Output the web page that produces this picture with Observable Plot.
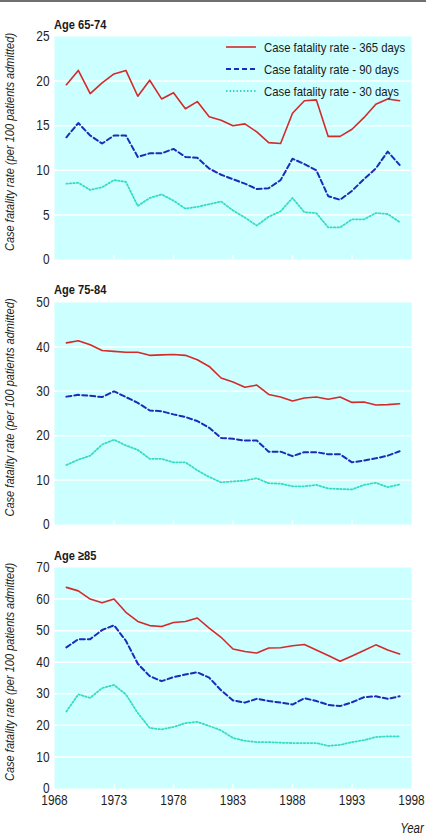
<!DOCTYPE html>
<html><head><meta charset="utf-8">
<script src="https://cdn.jsdelivr.net/npm/d3@7"></script>
<script src="https://cdn.jsdelivr.net/npm/@observablehq/plot@0.6"></script>
<style>
body{margin:0;background:#fff;}
#wrap{position:relative;width:426px;height:836px;overflow:hidden;font-family:"Liberation Sans",Arial,sans-serif;color:#1a1a1a;}
.rule{position:absolute;left:0;top:0;width:426px;height:2px;background:#707070;}
.ptitle{position:absolute;left:54px;font-weight:bold;font-size:13.5px;line-height:14px;transform:scaleX(0.82);transform-origin:left center;white-space:nowrap;}
.panel{position:absolute;left:0;}
.legend{position:absolute;left:226px;top:36px;font-size:13.5px;}
.legend .row{height:22px;display:flex;align-items:center;white-space:nowrap;}
.legend svg{margin-right:8px;flex:none;}
.legend span{display:inline-block;transform:scaleX(0.84);transform-origin:left center;}
.year{position:absolute;right:2px;top:821px;font-style:italic;font-size:14px;line-height:14px;transform:scaleX(0.82);transform-origin:right center;}
</style></head><body>
<div id="wrap">
  <div class="rule"></div>
</div>
<script>
const years = [1969,1970,1971,1972,1973,1974,1975,1976,1977,1978,1979,1980,1981,1982,1983,1984,1985,1986,1987,1988,1989,1990,1991,1992,1993,1994,1995,1996,1997];
const xTicks = [1968,1973,1978,1983,1988,1993,1998];
const seriesNames = ["Case fatality rate - 365 days","Case fatality rate - 90 days","Case fatality rate - 30 days"];
const panelTitles = ["Age 65-74","Age 75-84","Age \u226585"];
const yLabel = "Case fatality rate (per 100 patients admitted)";

// Age 65-74
const a365 = [19.6,21.2,18.6,19.8,20.8,21.2,18.3,20.1,18.0,18.7,16.9,17.7,16.0,15.6,15.0,15.2,14.3,13.1,13.0,16.4,17.8,17.9,13.8,13.8,14.6,15.9,17.4,18.0,17.8];
const a90  = [13.7,15.3,13.9,13.0,13.9,13.9,11.5,11.9,11.9,12.4,11.5,11.4,10.2,9.5,9.0,8.5,7.9,8.0,8.9,11.3,10.7,10.0,7.1,6.7,7.7,9.0,10.2,12.1,10.6];
const a30  = [8.5,8.6,7.8,8.1,8.9,8.7,6.0,6.9,7.3,6.6,5.7,5.9,6.2,6.5,5.5,4.7,3.8,4.8,5.4,6.9,5.3,5.2,3.6,3.6,4.5,4.5,5.2,5.1,4.2];
const aTicks = [0,5,10,15,20,25];
// Age 75-84
const b365 = [40.9,41.4,40.5,39.2,39.0,38.8,38.8,38.1,38.2,38.3,38.1,37.1,35.6,33.0,32.1,30.9,31.4,29.3,28.7,27.8,28.5,28.7,28.2,28.7,27.5,27.6,26.9,27.0,27.2];
const b90  = [28.8,29.2,29.0,28.7,30.0,28.7,27.4,25.7,25.5,24.8,24.2,23.3,21.8,19.5,19.3,18.9,18.9,16.4,16.4,15.4,16.3,16.3,15.8,15.8,14.0,14.4,14.9,15.5,16.5];
const b30  = [13.4,14.6,15.5,18.0,19.1,17.8,16.8,14.8,14.8,14.0,14.0,12.2,10.7,9.5,9.7,9.9,10.4,9.3,9.2,8.6,8.6,8.9,8.1,8.0,7.9,8.9,9.4,8.4,9.0];
const bTicks = [0,10,20,30,40,50];
// Age >=85
const c365 = [63.7,62.6,60.0,58.8,60.0,55.8,52.9,51.6,51.3,52.6,52.9,54.0,50.8,47.9,44.2,43.4,42.9,44.5,44.6,45.2,45.6,43.9,42.1,40.3,42.0,43.7,45.5,43.9,42.6];
const c90  = [44.7,47.3,47.3,50.2,51.7,46.8,39.5,35.6,34.0,35.3,36.1,36.8,35.1,31.1,27.9,27.2,28.4,27.7,27.2,26.6,28.6,27.7,26.5,26.1,27.3,28.9,29.2,28.4,29.2];
const c30  = [24.4,29.8,28.7,31.8,32.8,29.8,23.9,19.2,18.7,19.5,20.7,21.1,19.8,18.4,16.0,15.1,14.7,14.7,14.5,14.4,14.4,14.4,13.5,13.8,14.7,15.3,16.3,16.5,16.5];
const cTicks = [0,10,20,30,40,50,60,70];

const FONT = '"Liberation Sans",Arial,sans-serif';
const styles = [
  {stroke:"#d42a2a", strokeWidth:1.6, dash:null},
  {stroke:"#1b2db8", strokeWidth:2, dash:"5,3"},
  {stroke:"#34dcc4", strokeWidth:1.8, dash:"1.5,2"}
];
const wrap = document.getElementById("wrap");

function panel(top, svgH, mt, mb, title, titleTop, yTicks, vals, showX) {
  const plotH = svgH - mt - mb;
  const lineMarks = vals.map((v, k) => Plot.line(years.map((yr, i) => ({year: yr, value: v[i]})), {
    x: "year", y: "value", stroke: styles[k].stroke, strokeWidth: styles[k].strokeWidth,
    strokeDasharray: styles[k].dash
  }));
  const marks = [
    Plot.frame({fill: "#ccffff", stroke: null}),
    Plot.gridY(yTicks.slice(1, -1), {stroke: "#fff", strokeOpacity: 1, strokeWidth: 1.5}),
    Plot.tickX(xTicks.slice(1, -1), {x: d => d, stroke: "#fff", strokeWidth: 1.5, insetTop: plotH - 4}),
    Plot.axisY(yTicks, {tickSize: 0, tickPadding: 5, label: null, fontSize: 14.5}),
    Plot.text([yLabel], {text: d => d, frameAnchor: "left", textAnchor: "middle", lineAnchor: "middle", rotate: -90, dx: -45, dy: -6, fontStyle: "italic", fontSize: 13.5}),
    ...lineMarks
  ];
  if (showX) marks.push(Plot.axisX(xTicks, {tickSize: 0, tickPadding: 6, label: null, tickFormat: d => String(d), fontSize: 14.5}));
  const chart = Plot.plot({
    width: 426, height: svgH,
    marginLeft: 54, marginRight: 15, marginTop: mt, marginBottom: mb,
    style: {fontFamily: FONT, fontSize: "14px", color: "#1e1e1e", background: "transparent", overflow: "visible"},
    x: {domain: [1968, 1998], axis: showX ? undefined : null},
    y: {domain: [yTicks[0], yTicks[yTicks.length - 1]]},
    marks
  });
  chart.classList.add("panel");
  chart.style.top = top + "px";
  // narrow (condensed) lettering: compress each text about its own anchor
  chart.querySelectorAll("text").forEach(t => {
    const tr = t.getAttribute("transform") || "";
    t.setAttribute("transform", tr + " scale(0.82,1)");
  });
  wrap.appendChild(chart);
  const t = document.createElement("div");
  t.className = "ptitle";
  t.style.top = titleTop + "px";
  t.textContent = title;
  wrap.appendChild(t);
}

panel(0, 270, 36, 11, panelTitles[0], 18, aTicks, [a365, a90, a30], false);
panel(270, 270, 32, 16, panelTitles[1], 283, bTicks, [b365, b90, b30], false);
panel(540, 296, 27, 48, panelTitles[2], 549, cTicks, [c365, c90, c30], true);

// legend
const leg = document.createElement("div");
leg.className = "legend";
seriesNames.forEach((name, k) => {
  const row = document.createElement("div");
  row.className = "row";
  const s = d3.create("svg").attr("width", 30).attr("height", 6);
  s.append("line").attr("x1", 0).attr("x2", 30).attr("y1", 3).attr("y2", 3)
    .attr("stroke", styles[k].stroke).attr("stroke-width", styles[k].strokeWidth)
    .attr("stroke-dasharray", styles[k].dash);
  row.appendChild(s.node());
  const sp = document.createElement("span");
  sp.textContent = name;
  row.appendChild(sp);
  leg.appendChild(row);
});
wrap.appendChild(leg);

const yr = document.createElement("div");
yr.className = "year";
yr.textContent = "Year";
wrap.appendChild(yr);
</script>
</body></html>
